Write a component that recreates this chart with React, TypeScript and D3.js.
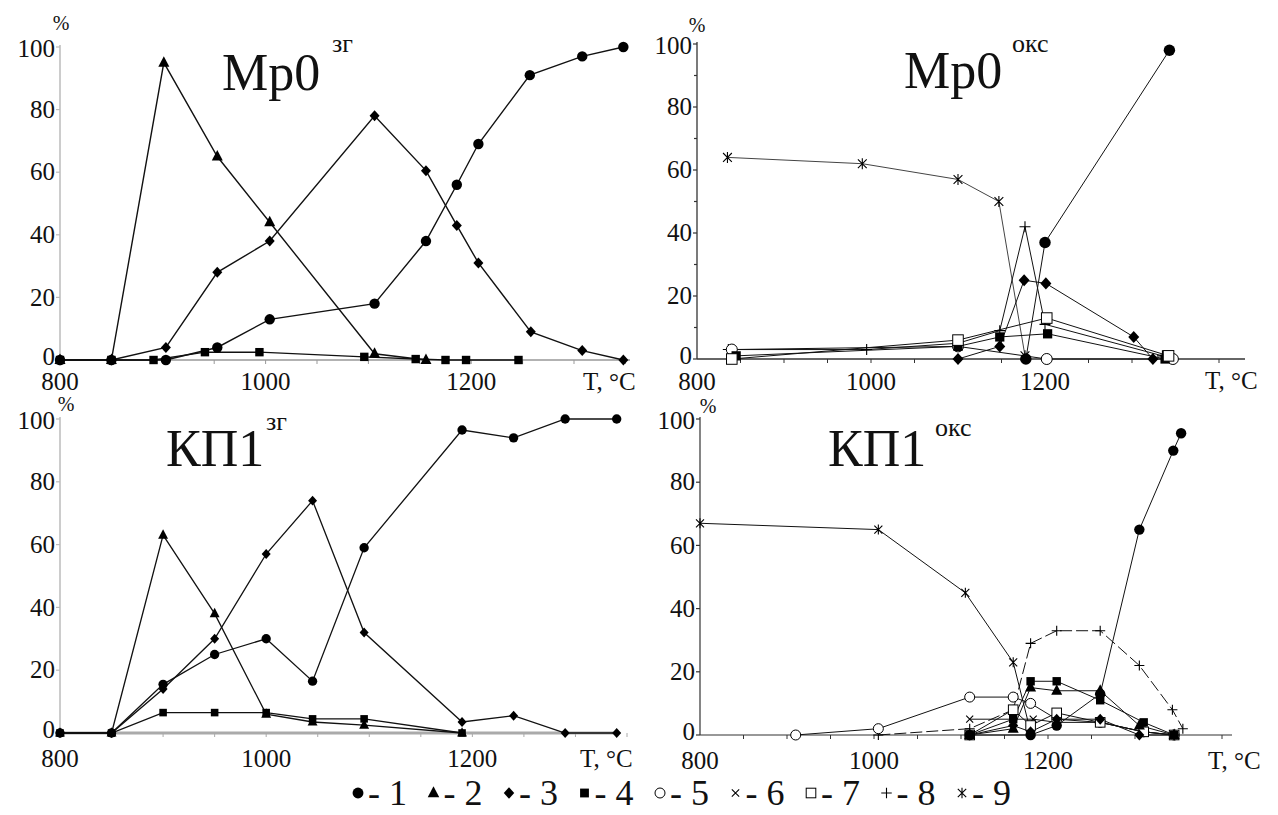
import React from "react";
import * as d3 from "d3";

type P = [number, number];

// ---------- DATA (temperature °C, percent) ----------
// Мр0 зг
const mr0zg1: P[] = [[800,0],[850,0],[903,0],[953,4],[1004,13],[1106,18],[1156,38],[1186,56],[1207,69],[1257,91],[1308,97],[1348,100]];
const mr0zg2: P[] = [[800,0],[850,0],[901,95],[953,65],[1004,44],[1106,2],[1156,0]];
const mr0zg3: P[] = [[800,0],[850,0],[903,4],[953,28],[1004,38],[1106,78],[1156,60.5],[1186,43],[1207,31],[1258,9],[1308,3],[1348,0]];
const mr0zg4: P[] = [[800,0],[850,0],[891,0],[941,2.5],[994,2.5],[1096,1],[1146,0.3],[1175,0],[1195,0],[1246,0]];

// Мр0 окс
const mr0ok1: P[] = [[1178,0],[1200,37],[1343,98]];
const mr0ok3: P[] = [[1100,0],[1148,4],[1176,25],[1201,24],[1302,7],[1324,0]];
const mr0ok4: P[] = [[845,1],[1100,4],[1148,7],[1203,8],[1338,0]];
const mr0ok5: P[] = [[840,3],[1100,4],[1202,0],[1347,0]];
const mr0ok7: P[] = [[840,0],[1100,6],[1202,13],[1342,1]];
const mr0ok8: P[] = [[836,3],[995,3],[1100,5],[1148,9],[1177,42],[1200,11],[1335,1]];
const mr0ok9: P[] = [[835,64],[990,62],[1100,57],[1147,50],[1177,1]];

// КП1 зг
const kp1zg1: P[] = [[800,0],[850,0],[900,15.5],[950,25],[1000,30],[1045,16.5],[1095,59],[1190,96.5],[1240,94],[1290,100],[1340,100]];
const kp1zg2: P[] = [[800,0],[850,0],[900,63],[950,38],[1000,6],[1045,3.5],[1095,2.5],[1190,0]];
const kp1zg3: P[] = [[800,0],[850,0],[900,14],[950,30],[1000,57],[1045,74],[1095,32],[1190,3.5],[1240,5.5],[1290,0],[1340,0]];
const kp1zg4: P[] = [[800,0],[850,0],[900,6.5],[950,6.5],[1000,6.5],[1045,4.5],[1095,4.5],[1190,0]];

// КП1 окс
const kp1ok1: P[] = [[1110,0],[1180,0],[1210,3],[1260,13],[1305,65],[1344,90],[1353,95.5]];
const kp1ok2: P[] = [[1110,0],[1160,2],[1180,15],[1210,14],[1260,14],[1305,3],[1345,0]];
const kp1ok3: P[] = [[1110,0],[1160,3],[1180,1],[1210,5],[1260,5],[1305,0],[1345,0]];
const kp1ok4: P[] = [[1110,0],[1160,5],[1180,17],[1210,17],[1260,11],[1310,4],[1345,0]];
const kp1ok5: P[] = [[910,0],[1005,2],[1110,12],[1160,12],[1180,10],[1210,5],[1260,4],[1310,1],[1345,0]];
const kp1ok6: P[] = [[1110,5],[1160,5],[1183,5],[1210,4],[1260,4],[1310,1],[1345,0]];
const kp1ok7: P[] = [[1110,0],[1160,8],[1180,3],[1210,7],[1260,4],[1310,1],[1345,0]];
const kp1ok8: P[] = [[1005,0],[1110,2],[1160,8],[1180,29],[1210,33],[1260,33],[1305,22],[1343,8],[1355,2]];
const kp1ok9: P[] = [[800,67],[1005,65],[1105,45],[1160,23],[1180,1]];

const X_TICK_LABELS = [800, 1000, 1200];
const Y_TICK_LABELS = [0, 20, 40, 60, 80, 100];
const LEGEND_IDS = [1, 2, 3, 4, 5, 6, 7, 8, 9];
const X_UNIT = "T, °C";
const Y_UNIT = "%";

// ---------- LAYOUT ----------
const FONT = '"Liberation Serif", "Times New Roman", Times, "DejaVu Serif", serif';

type Panel = {
  series: [number, P[]][];
  xd: [number, number]; xr: [number, number];
  yr: [number, number];
  axisEnd: number; tickMax: number;
  title: string; sup: string;
  titlePos: [number, number]; supPos: [number, number];
  pctPos: [number, number]; tPos: [number, number];
  xLabelY: number;
  axisColor: string; axisW: number; xAxisColor: string; xAxisW: number;
  yMinor: boolean; lineW: number; ms: number;
  dashed8?: boolean;
};

const panels: Panel[] = [
  {
    series: [[4, mr0zg4], [2, mr0zg2], [3, mr0zg3], [1, mr0zg1]],
    xd: [800, 1350], xr: [60, 625.4], yr: [360, 47],
    axisEnd: 630, tickMax: 1350,
    title: "Мр0", sup: "зг", titlePos: [222, 90], supPos: [332, 52],
    pctPos: [61, 30], tPos: [583, 390], xLabelY: 390,
    axisColor: "#bbb", axisW: 1.5, xAxisColor: "#999", xAxisW: 1.5,
    yMinor: false, lineW: 1.4, ms: 1,
  },
  {
    series: [[9, mr0ok9], [8, mr0ok8], [5, mr0ok5], [4, mr0ok4], [7, mr0ok7], [3, mr0ok3], [1, mr0ok1]],
    xd: [800, 1430], xr: [697, 1245.1], yr: [359, 44],
    axisEnd: 1245, tickMax: 1400,
    title: "Мр0", sup: "окс", titlePos: [904, 88], supPos: [1012, 52],
    pctPos: [697, 32], tPos: [1205, 389], xLabelY: 390,
    axisColor: "#333", axisW: 1.3, xAxisColor: "#333", xAxisW: 1.3,
    yMinor: true, lineW: 1.0, ms: 1.1,
  },
  {
    series: [[4, kp1zg4], [2, kp1zg2], [3, kp1zg3], [1, kp1zg1]],
    xd: [800, 1350], xr: [60, 627], yr: [733, 419],
    axisEnd: 615, tickMax: 1350,
    title: "КП1", sup: "зг", titlePos: [166, 466], supPos: [266, 430],
    pctPos: [66, 411], tPos: [580, 767], xLabelY: 767,
    axisColor: "#bbb", axisW: 1.5, xAxisColor: "#aaa", xAxisW: 3,
    yMinor: false, lineW: 1.3, ms: 0.9,
  },
  {
    series: [[9, kp1ok9], [8, kp1ok8], [5, kp1ok5], [6, kp1ok6], [7, kp1ok7], [2, kp1ok2], [3, kp1ok3], [4, kp1ok4], [1, kp1ok1]],
    xd: [800, 1430], xr: [700, 1248.1], yr: [735, 419],
    axisEnd: 1232, tickMax: 1400,
    title: "КП1", sup: "окс", titlePos: [828, 466], supPos: [935, 436],
    pctPos: [708, 413], tPos: [1208, 769], xLabelY: 769,
    axisColor: "#333", axisW: 1.2, xAxisColor: "#333", xAxisW: 1.2,
    yMinor: false, lineW: 1.0, ms: 1, dashed8: true,
  },
];

function Marker({ id, x, y, s }: { id: number; x: number; y: number; s: number }) {
  const k = s;
  switch (id) {
    case 1:
      return <circle cx={x} cy={y} r={5.2 * k} fill="#000" />;
    case 2:
      return <path d={`M${x},${y - 6.5 * k}L${x + 5.5 * k},${y + 4 * k}L${x - 5.5 * k},${y + 4 * k}Z`} fill="#000" />;
    case 3:
      return <path d={`M${x},${y - 5.5 * k}L${x + 5 * k},${y}L${x},${y + 5.5 * k}L${x - 5 * k},${y}Z`} fill="#000" />;
    case 4:
      return <rect x={x - 4.2 * k} y={y - 4.2 * k} width={8.4 * k} height={8.4 * k} fill="#000" />;
    case 5:
      return <circle cx={x} cy={y} r={5 * k} fill="#fff" stroke="#000" strokeWidth={1} />;
    case 6:
      return <path d={`M${x - 3.5 * k},${y - 3.5 * k}L${x + 3.5 * k},${y + 3.5 * k}M${x - 3.5 * k},${y + 3.5 * k}L${x + 3.5 * k},${y - 3.5 * k}`} stroke="#000" strokeWidth={1.1} />;
    case 7:
      return <rect x={x - 4.8 * k} y={y - 4.8 * k} width={9.6 * k} height={9.6 * k} fill="#fff" stroke="#000" strokeWidth={1} />;
    case 8:
      return <path d={`M${x - 5 * k},${y}L${x + 5 * k},${y}M${x},${y - 5 * k}L${x},${y + 5 * k}`} stroke="#000" strokeWidth={1.1} />;
    case 9:
      return <path d={`M${x - 4 * k},${y - 4 * k}L${x + 4 * k},${y + 4 * k}M${x - 4 * k},${y + 4 * k}L${x + 4 * k},${y - 4 * k}M${x},${y - 5 * k}L${x},${y + 5 * k}`} stroke="#000" strokeWidth={1.1} />;
    default:
      return null;
  }
}

function PanelView({ p }: { p: Panel }) {
  const x = d3.scaleLinear().domain(p.xd).range(p.xr);
  const y = d3.scaleLinear().domain([0, 100]).range(p.yr);
  const line = d3.line<P>().x((d) => x(d[0])).y((d) => y(d[1]));
  const x0 = x(800);
  const minorX = d3.range(850, p.tickMax + 1, 50);
  const minorY = p.yMinor ? d3.range(10, 100, 20) : [];
  return (
    <g>
      <line x1={x0} x2={x0} y1={y(0)} y2={y(100) - 2} stroke={p.axisColor} strokeWidth={p.axisW} />
      {Y_TICK_LABELS.map((t) => (
        <g key={t}>
          <line x1={x0 - 4} x2={x0} y1={y(t)} y2={y(t)} stroke={p.axisColor} strokeWidth={1.2} />
          <text x={x0 - 5} y={y(t) - (t === 0 ? 3 : 0) + (t === 100 ? 2 : 0)} dy="0.33em" textAnchor="end" fontSize={25} fill="#111">{t}</text>
        </g>
      ))}
      {minorY.map((t) => (
        <line key={t} x1={x0 - 3} x2={x0} y1={y(t)} y2={y(t)} stroke={p.axisColor} strokeWidth={1.2} />
      ))}
      <line x1={x0} x2={p.axisEnd} y1={y(0)} y2={y(0)} stroke={p.xAxisColor} strokeWidth={p.xAxisW} />
      {minorX.map((t) => (
        <line key={t} x1={x(t)} x2={x(t)} y1={y(0)} y2={y(0) + 4} stroke={p.xAxisColor} strokeWidth={1} />
      ))}
      {X_TICK_LABELS.map((t) => (
        <text key={t} x={x(t)} y={p.xLabelY} textAnchor="middle" fontSize={25} fill="#111">{t}</text>
      ))}
      <text x={p.tPos[0]} y={p.tPos[1]} fontSize={25} fill="#111">{X_UNIT}</text>
      <text x={p.pctPos[0]} y={p.pctPos[1]} textAnchor="middle" fontSize={20} fill="#111">{Y_UNIT}</text>
      <text x={p.titlePos[0]} y={p.titlePos[1]} fontSize={52} fill="#111">{p.title}</text>
      <text x={p.supPos[0]} y={p.supPos[1]} fontSize={26} fill="#111">{p.sup}</text>
      {p.series.map(([id, data]) => (
        <path key={"l" + id} d={line(data) || ""} fill="none" stroke={id === 9 && p.yMinor ? "#444" : "#111"} strokeWidth={p.lineW}
          strokeDasharray={p.dashed8 && id === 8 ? "12,4" : undefined} />
      ))}
      {p.series.map(([id, data]) => (
        <g key={"m" + id}>
          {data.map((d, i) => (
            <Marker key={i} id={id} x={x(d[0])} y={y(d[1])} s={p.ms} />
          ))}
        </g>
      ))}
    </g>
  );
}

function Legend() {
  const x0 = 358;
  const step = 75.5;
  const cy = 793;
  return (
    <g>
      {LEGEND_IDS.map((id, i) => (
        <g key={id}>
          <Marker id={id} x={x0 + i * step} y={cy} s={id === 5 || id === 7 ? 1 : 1.05} />
          <text x={x0 + i * step + 10} y={cy + 12} fontSize={36} fill="#111">{`- ${id}`}</text>
        </g>
      ))}
    </g>
  );
}

export default function App() {
  return (
    <svg width={1278} height={815} style={{ position: "absolute", left: 0, top: 0, background: "#fff", fontFamily: FONT }}>
      <rect width={1278} height={815} fill="#fff" />
      {panels.map((p, i) => (
        <PanelView key={i} p={p} />
      ))}
      <Legend />
    </svg>
  );
}
